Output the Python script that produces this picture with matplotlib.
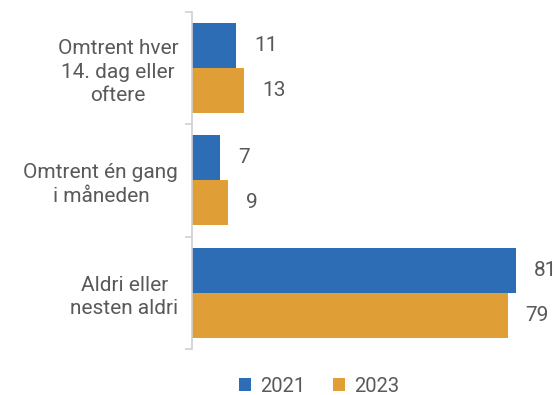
import numpy as np
import matplotlib
matplotlib.use('Agg')
import matplotlib.pyplot as plt

plt.rcParams['font.family'] = ['Roboto', 'DejaVu Sans']

categories = ['Omtrent hver\n14. dag eller\noftere', 'Omtrent én gang\ni måneden', 'Aldri eller\nnesten aldri']
series_names = ['2021', '2023']
values_2021 = [11, 7, 81]
values_2023 = [13, 9, 79]
colors = ['#2D6DB5', '#E09F36']
text_color = '#595959'

fig = plt.figure(figsize=(5.57, 3.95), dpi=100)
ax = fig.add_axes([0.345, 0.1165, 0.645, 0.8535])

y = np.arange(len(categories))
h = 0.4
bars1 = ax.barh(y - h / 2, values_2021, height=h, color=colors[0], label=series_names[0])
bars2 = ax.barh(y + h / 2, values_2023, height=h, color=colors[1], label=series_names[1])

for bars in (bars1, bars2):
    for b in bars:
        w = b.get_width()
        ax.annotate(f'{w:g}', (w, b.get_y() + b.get_height() / 2),
                    xytext=(13, 0), textcoords='offset points',
                    va='center', ha='left', fontsize=15, color=text_color)

ax.set_xlim(0, 90)
ax.set_ylim(len(categories) - 0.5, -0.5)
ax.set_xticks([])

# category labels sit between boundary tick marks
ax.set_yticks(y)
ax.set_yticklabels(categories, fontsize=15, color=text_color, multialignment='center',
                   linespacing=1.3)
ax.tick_params(axis='y', which='major', length=0, pad=10)
ax.set_yticks(np.arange(-0.5, len(categories)), minor=True)
ax.tick_params(axis='y', which='minor', length=5, width=1.2, color='#d0d0d0')

for s in ['top', 'right', 'bottom']:
    ax.spines[s].set_visible(False)
ax.spines['left'].set_color('#d0d0d0')
ax.spines['left'].set_linewidth(1.2)

fig.legend(loc='lower center', bbox_to_anchor=(0.573, -0.048), ncol=2, frameon=False,
           fontsize=14.5, labelcolor=text_color, handlelength=0.6, handleheight=0.6,
           handletextpad=0.45, columnspacing=1.4)

fig.savefig('out.png', dpi=100)
